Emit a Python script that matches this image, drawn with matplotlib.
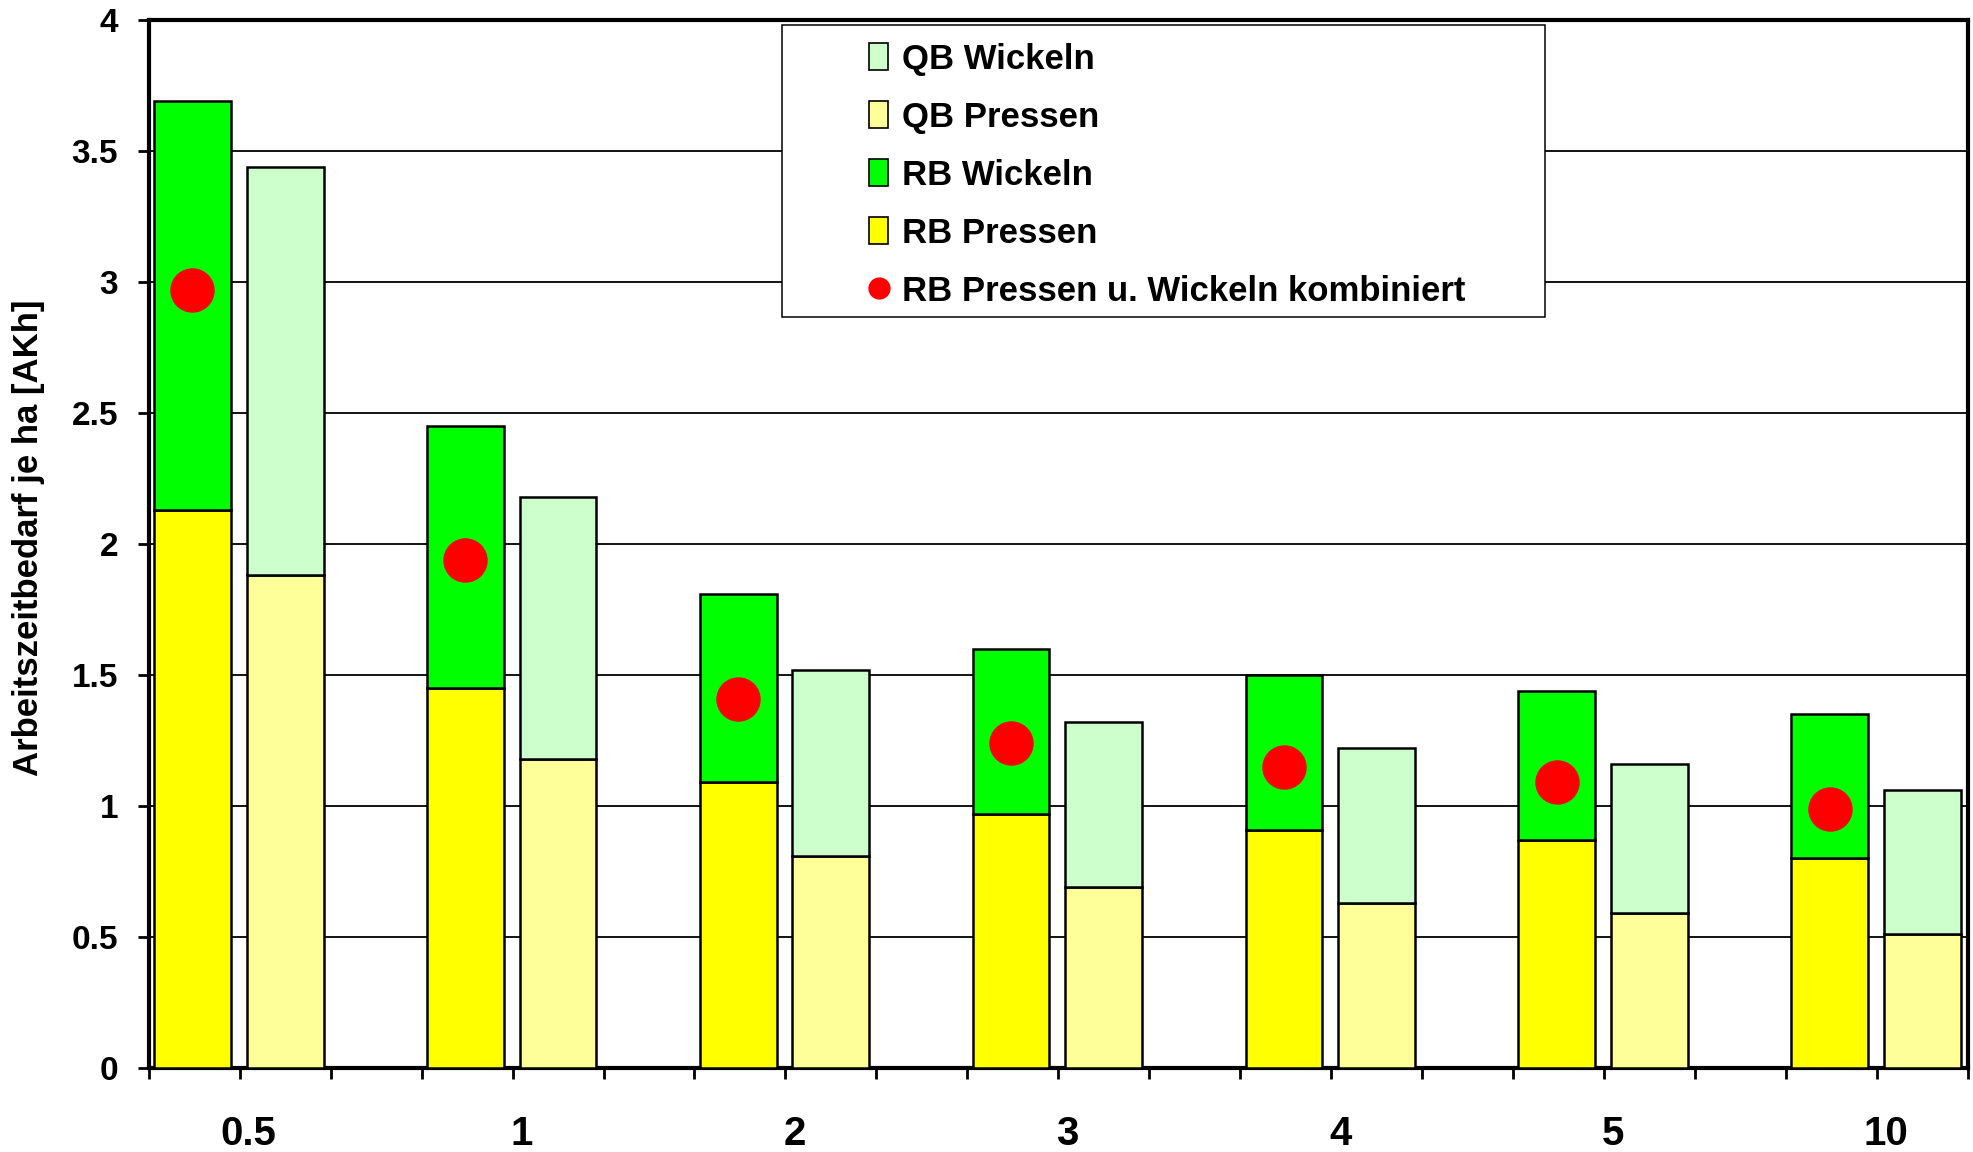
import matplotlib.pyplot as plt
import matplotlib.patches as mpatches
from matplotlib.lines import Line2D
import numpy as np

plt.rcParams['font.family'] = ['Liberation Sans', 'DejaVu Sans']
plt.rcParams['font.weight'] = 'bold'

# Schlaggroesse [ha]
groups = ['0.5', '1', '2', '3', '4', '5', '10']

# Rundballen (RB): Pressen und Gesamt (Pressen + Wickeln)
rb_pressen = [2.13, 1.45, 1.09, 0.97, 0.91, 0.87, 0.80]
rb_gesamt = [3.69, 2.45, 1.81, 1.60, 1.50, 1.44, 1.35]
# RB Pressen u. Wickeln kombiniert
rb_kombi = [2.97, 1.94, 1.41, 1.24, 1.15, 1.09, 0.99]

# Quaderballen (QB): Pressen und Gesamt
qb_pressen = [1.88, 1.18, 0.81, 0.69, 0.63, 0.59, 0.51]
qb_gesamt = [3.44, 2.18, 1.52, 1.32, 1.22, 1.16, 1.06]

rb_wickeln = np.array(rb_gesamt) - np.array(rb_pressen)
qb_wickeln = np.array(qb_gesamt) - np.array(qb_pressen)

c_rb_p = '#FFFF00'
c_rb_w = '#00FF00'
c_qb_p = '#FFFF99'
c_qb_w = '#CCFFCC'

fig = plt.figure(figsize=(19.74, 11.52), dpi=100)
ax = fig.add_axes([0.0753, 0.0729, 0.9217, 0.9097])

n = len(groups)
x_rb = np.arange(n) * 3
x_qb = x_rb + 1
w = 0.845
ekw = dict(edgecolor='black', linewidth=1.8, zorder=3)

ax.bar(x_rb - 0.02, rb_pressen, w, color=c_rb_p, **ekw)
ax.bar(x_rb - 0.02, rb_wickeln, w, bottom=rb_pressen, color=c_rb_w, **ekw)
ax.bar(x_qb, qb_pressen, w, color=c_qb_p, **ekw)
ax.bar(x_qb, qb_wickeln, w, bottom=qb_pressen, color=c_qb_w, **ekw)
ax.plot(x_rb - 0.02, rb_kombi, 'o', color='#FF0000', markersize=32,
        markeredgewidth=0, zorder=4)

ax.set_xlim(-0.5, 19.5)
ax.set_ylim(0, 4)
ax.set_yticks(np.arange(0, 4.01, 0.5))
ax.set_yticklabels(['0', '0.5', '1', '1.5', '2', '2.5', '3', '3.5', '4'])
ax.yaxis.grid(True, color='black', linewidth=1.3, zorder=0)
ax.set_axisbelow(True)

# Striche an allen Kategoriegrenzen, Beschriftung zwischen RB- und QB-Saeule
ax.set_xticks(np.arange(-0.5, 19.6, 1))
ax.set_xticklabels([])
ax.set_xticks(x_rb + 0.6, minor=True)
ax.set_xticklabels(groups, minor=True)
ax.tick_params(axis='x', which='major', direction='out', length=8, width=2)
ax.tick_params(axis='x', which='minor', length=0, pad=34, labelsize=29)
ax.tick_params(axis='y', direction='out', length=8, width=2, pad=14,
               labelsize=24)

for s in ax.spines.values():
    s.set_linewidth(3)

ax.set_ylabel('Arbeitszeitbedarf je ha [AKh]', fontsize=25, fontweight='bold')
ax.yaxis.set_label_coords(-0.057, 0.506)

# Legendenrahmen
frame = mpatches.Rectangle((0.348, 0.7166), 0.4196, 0.2784,
                           transform=ax.transAxes, facecolor='white',
                           edgecolor='black', linewidth=1.1, zorder=5)
ax.add_patch(frame)

handles = [
    mpatches.Patch(facecolor=c_qb_w, edgecolor='black', linewidth=1.2),
    mpatches.Patch(facecolor=c_qb_p, edgecolor='black', linewidth=1.2),
    mpatches.Patch(facecolor=c_rb_w, edgecolor='black', linewidth=1.2),
    mpatches.Patch(facecolor=c_rb_p, edgecolor='black', linewidth=1.2),
    Line2D([], [], linestyle='none', marker='o', color='#FF0000',
           markersize=16, markeredgewidth=0),
]
labels = ['QB Wickeln', 'QB Pressen', 'RB Wickeln', 'RB Pressen',
          'RB Pressen u. Wickeln kombiniert']
leg = ax.legend(handles, labels, loc='center left',
                bbox_to_anchor=(0.396, 0.852), frameon=False,
                handlelength=0.55, handleheight=0.8,
                handletextpad=0.4, labelspacing=0.72, borderpad=0,
                borderaxespad=0, prop={'weight': 'bold', 'size': 25})
leg.set_zorder(6)

fig.savefig('out.png', dpi=100)
